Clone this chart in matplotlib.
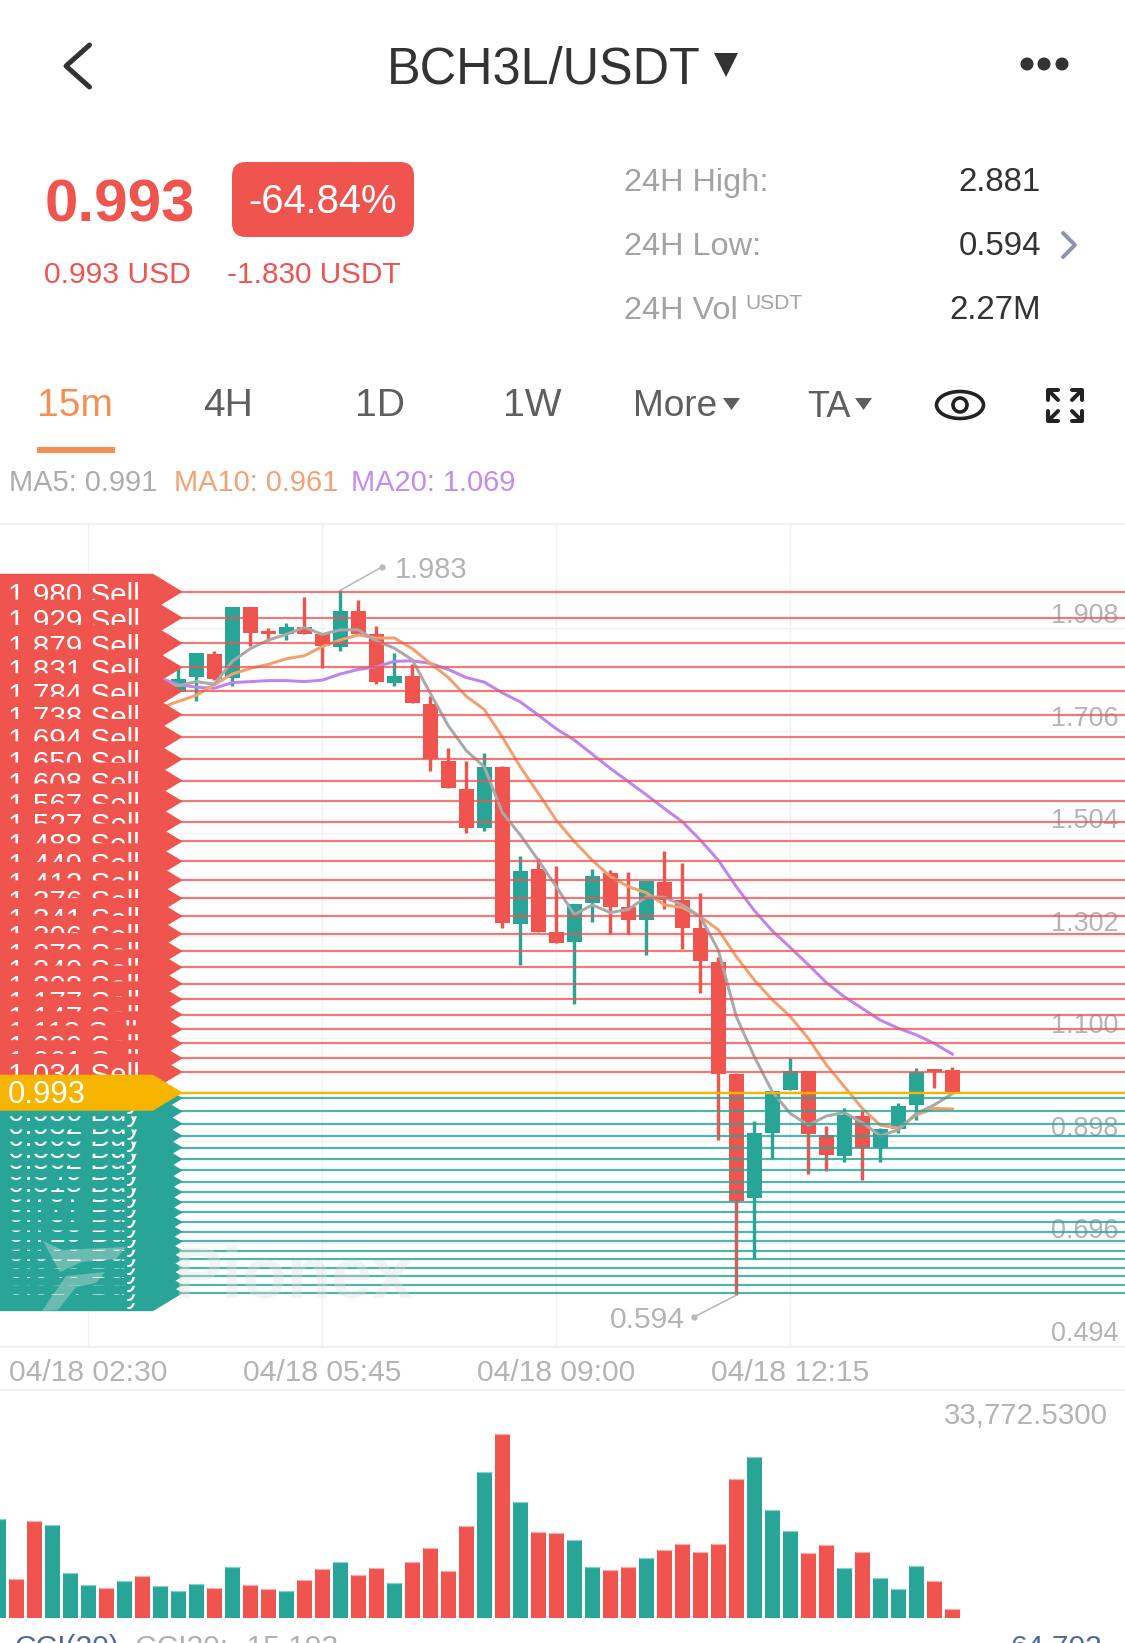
import numpy as np
import matplotlib
matplotlib.use("Agg")
import matplotlib.pyplot as plt
from matplotlib.patches import Polygon, FancyBboxPatch, Ellipse, Circle
from matplotlib.transforms import ScaledTranslation

plt.rcParams['font.family'] = ['Liberation Sans', 'DejaVu Sans']

# ---------- data ----------
opens = [1.783, 1.813, 1.857, 1.811, 1.950, 1.899, 1.896, 1.910, 1.896, 1.871, 1.943,
         1.896, 1.801, 1.814, 1.758, 1.647, 1.592, 1.514, 1.634, 1.326, 1.433, 1.310,
         1.289, 1.366, 1.425, 1.358, 1.333, 1.409, 1.372, 1.317, 1.250, 1.029, 0.786,
         0.913, 0.998, 1.035, 0.909, 0.868, 0.947, 0.885, 0.921, 0.968, 1.038, 1.037]
closes = [1.809, 1.860, 1.809, 1.950, 1.899, 1.896, 1.911, 1.896, 1.873, 1.943, 1.896,
          1.802, 1.815, 1.761, 1.650, 1.594, 1.515, 1.634, 1.328, 1.430, 1.310, 1.287,
          1.364, 1.420, 1.359, 1.333, 1.410, 1.373, 1.318, 1.252, 1.030, 0.780, 0.913,
          0.996, 1.036, 0.911, 0.870, 0.949, 0.885, 0.921, 0.967, 1.034, 1.034, 0.993]
highs = [1.829, 1.860, 1.863, 1.950, 1.950, 1.909, 1.919, 1.970, 1.896, 1.983, 1.964,
         1.912, 1.860, 1.837, 1.774, 1.673, 1.647, 1.663, 1.636, 1.459, 1.456, 1.440,
         1.364, 1.433, 1.432, 1.427, 1.410, 1.469, 1.446, 1.387, 1.261, 1.032, 0.937,
         0.997, 1.062, 1.036, 0.927, 0.962, 0.956, 0.923, 0.973, 1.042, 1.040, 1.043]
lows = [1.783, 1.765, 1.806, 1.794, 1.874, 1.883, 1.885, 1.896, 1.830, 1.863, 1.896,
        1.799, 1.794, 1.760, 1.627, 1.593, 1.504, 1.509, 1.317, 1.245, 1.310, 1.287,
        1.167, 1.330, 1.305, 1.305, 1.264, 1.354, 1.277, 1.189, 0.900, 0.594, 0.665,
        0.862, 0.998, 0.832, 0.839, 0.857, 0.821, 0.856, 0.913, 0.940, 1.003, 0.993]

ma5 = [1.802, 1.795, 1.803, 1.798, 1.843, 1.868, 1.885, 1.896, 1.910, 1.896, 1.905, 1.905,
       1.883, 1.869, 1.846, 1.780, 1.716, 1.667, 1.635, 1.545, 1.501, 1.451, 1.399, 1.344,
       1.363, 1.348, 1.354, 1.379, 1.378, 1.363, 1.340, 1.274, 1.143, 1.064, 0.995, 0.952,
       0.929, 0.947, 0.954, 0.934, 0.908, 0.920, 0.952, 0.969, 0.991]
ma10 = [1.751, 1.764, 1.776, 1.797, 1.818, 1.829, 1.837, 1.848, 1.854, 1.872, 1.885, 1.895,
        1.889, 1.889, 1.868, 1.839, 1.811, 1.774, 1.748, 1.694, 1.635, 1.583, 1.530, 1.488,
        1.451, 1.419, 1.399, 1.387, 1.363, 1.358, 1.340, 1.314, 1.261, 1.215, 1.176, 1.143,
        1.100, 1.048, 1.005, 0.962, 0.929, 0.923, 0.949, 0.962, 0.961]
ma20 = [1.810, 1.797, 1.792, 1.790, 1.801, 1.803, 1.805, 1.805, 1.803, 1.806, 1.818, 1.827,
        1.832, 1.843, 1.844, 1.839, 1.827, 1.811, 1.802, 1.781, 1.763, 1.737, 1.710, 1.688,
        1.660, 1.632, 1.606, 1.580, 1.553, 1.527, 1.491, 1.451, 1.399, 1.352, 1.312, 1.279,
        1.245, 1.210, 1.182, 1.159, 1.136, 1.120, 1.107, 1.090, 1.069]

volumes = [18083, 7111, 17716, 17041, 8276, 5946, 5394, 6682, 7724, 5885,
           4965, 6191, 5456, 9256, 5946, 5272, 4965, 6927, 8889, 10176, 7908, 9134,
           6375, 10176, 12812, 8643, 16919, 26788, 33772.53, 21271, 15815, 15509,
           14222, 9379, 8766, 9318, 10911, 12444, 13609, 12076, 13547, 25501, 29485,
           19861, 15938, 11831, 13363, 9072, 12076, 7233, 5272, 9563, 6743, 1533]
early_volume_up = [True, False, False, True, True, True, False, True, False, True]

sell_levels = [1.980, 1.929, 1.879, 1.831, 1.784, 1.738, 1.694, 1.650, 1.608, 1.567, 1.527,
               1.488, 1.449, 1.412, 1.376, 1.341, 1.306, 1.272, 1.240, 1.208, 1.177, 1.147,
               1.118, 1.090, 1.061, 1.034]
buy_levels = [0.982, 0.956, 0.932, 0.908, 0.885, 0.862, 0.840, 0.818, 0.797, 0.777, 0.757,
              0.738, 0.719, 0.700, 0.682, 0.665, 0.648, 0.631, 0.614, 0.598]
last_price = 0.993
price_ticks = [1.908, 1.706, 1.504, 1.302, 1.100, 0.898, 0.696, 0.494]
time_ticks = [-5, 8, 21, 34]
time_labels = ['04/18 02:30', '04/18 05:45', '04/18 09:00', '04/18 12:15']

RED = '#f0544f'
TEAL = '#29a598'
YELLOW = '#f7b500'
ORANGE = '#f58f54'
DARK = '#333333'
GRAY = '#b4b4b4'

W, H = 1125, 1643
PX_X0, PX_STEP = 178.3, 18.0      # pixel position of candle 0, spacing
PX_PER_UNIT = 507.5
def fs(px):
    return px * 0.72
def ix(px):
    return (px - PX_X0) / PX_STEP
def dp(px):
    return px / PX_PER_UNIT

fig = plt.figure(figsize=(W / 100, H / 100), dpi=100, facecolor='white')
def axes_px(top, bottom):
    return fig.add_axes([0, 1 - bottom / H, 1, (bottom - top) / H])

# ---------- price chart ----------
ax = axes_px(524, 1347)
ax.set_xlim(ix(0), ix(W))
ax.set_ylim(last_price - dp(1347 - 1092.7), last_price + dp(1092.7 - 524))
ax.set_facecolor('none')
for s in ['left', 'right']:
    ax.spines[s].set_visible(False)
for s in ['top', 'bottom']:
    ax.spines[s].set_color('#f0f0f0')
    ax.spines[s].set_linewidth(1.2)
ax.set_axisbelow(True)
ax.grid(True, color='#f1f1f1', lw=1.0)
ax.set_xticks(time_ticks)
ax.set_xticklabels(time_labels)
ax.tick_params(axis='x', length=0, pad=8.5, labelsize=fs(30), labelcolor=GRAY)
ax.yaxis.tick_right()
ax.set_yticks(price_ticks)
ax.set_yticklabels([f'{t:.3f}' for t in price_ticks])
ax.tick_params(axis='y', length=0, pad=-5, labelsize=fs(27), labelcolor=GRAY)
shift = ScaledTranslation(0, -0.01, fig.dpi_scale_trans)
for lab in ax.get_yticklabels():
    lab.set_ha('right')
    lab.set_va('bottom')
    lab.set_transform(lab.get_transform() + shift)

idx = np.arange(len(opens))
o, c, hi, lo = map(np.array, (opens, closes, highs, lows))
cols = [TEAL if cc >= oo else RED for oo, cc in zip(o, c)]
ax.vlines(idx, lo, hi, colors=cols, lw=fs(3.4), zorder=2)
ax.bar(idx, np.maximum(np.abs(c - o), dp(3)), bottom=np.minimum(o, c), width=15 / PX_STEP,
       color=cols, zorder=2.1, linewidth=0)

ma_x = np.arange(-1, len(opens))
ax.plot(ma_x, ma20, color='#c183ee', lw=fs(3), zorder=3, solid_joinstyle='round')
ax.plot(ma_x, ma10, color='#f4a06e', lw=fs(3), zorder=3.1, solid_joinstyle='round')
ax.plot(ma_x, ma5, color='#a9a9a9', lw=fs(3), zorder=3.2, solid_joinstyle='round')

for lv in sell_levels:
    ax.axhline(lv, color=RED, lw=fs(2.2), alpha=0.78, zorder=4)
for lv in buy_levels:
    ax.axhline(lv, color=TEAL, lw=fs(2.2), alpha=0.82, zorder=4)
ax.axhline(last_price, color=YELLOW, lw=fs(2.4), zorder=4.2)

def pennant(level, color, text, z, base_px, size_px=29.6):
    half = dp(18)
    pts = [(ix(-5), level + half), (ix(153), level + half), (ix(182.7), level),
           (ix(153), level - half), (ix(-5), level - half)]
    ax.add_patch(Polygon(pts, closed=True, facecolor=color, edgecolor='none', zorder=z))
    ax.text(ix(7.5), level - dp(base_px), text, color='white', fontsize=fs(size_px),
            ha='left', va='baseline', zorder=z + 0.5)

z = 10
for lv in sell_levels:
    pennant(lv, RED, f'{lv:.3f} Sell', z, 12.5)
    z += 1
for lv in reversed(buy_levels):
    pennant(lv, TEAL, f'{lv:.3f} Buy', z, 10)
    z += 1
pennant(last_price, YELLOW, f'{last_price:.3f}', z + 1, 10.6, 31)

# high / low callouts
hi_i = int(np.argmax(hi)); lo_i = int(np.argmin(lo))
for i, p, tx, ty, lx, ha, size in [(hi_i, hi[hi_i], 382, 567, 395, 'left', 29),
                                   (lo_i, lo[lo_i], 694.5, 1316.7, 685, 'right', 30)]:
    ty_p = last_price + dp(1092.7 - ty)
    ax.plot([i, ix(tx)], [p, ty_p], color='#b9b9b9', lw=fs(1.6), zorder=5)
    ax.plot([ix(tx)], [ty_p], 'o', ms=fs(5), color='#b9b9b9', zorder=5)
    ax.text(ix(lx), ty_p - dp(3), f'{p:.3f}', color=GRAY, fontsize=fs(size), ha=ha, va='center', zorder=5)

# ---------- volume ----------
ax2 = axes_px(1434, 1617.7)
ax2.set_xlim(ix(0), ix(W))
ax2.set_ylim(0, max(volumes))
ax2.axis('off')
vx = np.arange(-10, len(opens))
vcols = [TEAL if u else RED for u in early_volume_up] + cols
ax2.bar(vx, volumes, width=15 / PX_STEP, color=vcols, linewidth=0)
caps = ['#86d2c8' if col == TEAL else '#f8aeaa' for col in vcols]
half_w = 7.5 / PX_STEP
ax2.hlines(volumes, vx - half_w, vx + half_w, colors=caps, lw=fs(1.2), clip_on=False)

# ---------- interface layer (pixel coordinates) ----------
ui = fig.add_axes([0, 0, 1, 1], zorder=5)
ui.set_xlim(0, W); ui.set_ylim(H, 0); ui.axis('off'); ui.patch.set_alpha(0)

def t(x, y, s, px, color, ha='left', **kw):
    ui.text(x, y + 0.09 * px, s, fontsize=fs(px), color=color, ha=ha, va='center', **kw)
def tri(x0, x1, y0, y1, color):
    ui.add_patch(Polygon([(x0, y0), (x1, y0), ((x0 + x1) / 2, y1)], facecolor=color, edgecolor='none'))
def ln(xs, ys, color=DARK, px=4):
    ui.plot(xs, ys, color=color, lw=fs(px), solid_capstyle='round', solid_joinstyle='round')

ln([89.5, 66, 89.5], [45, 66, 87], DARK, 5)
t(387, 65, 'BCH3L/USDT', 50.5, DARK)
tri(714, 738, 53, 77, DARK)
for x in (1027, 1044, 1062):
    ui.add_patch(Circle((x, 64), 5.8, color=DARK))

t(45, 201, '0.993', 60, RED, fontweight='bold')
ui.add_patch(FancyBboxPatch((232, 162), 182, 75, boxstyle='round,pad=0,rounding_size=14',
                            facecolor=RED, edgecolor='none'))
t(323, 198, '-64.84%', 40, 'white', ha='center')
t(44, 272, '0.993 USD', 30, RED)
t(227, 272, '-1.830 USDT', 29.7, RED)

for y, lab, val in [(180, '24H High:', '2.881'), (244, '24H Low:', '0.594'), (308, '24H Vol', '2.27M')]:
    t(624, y, lab, 32.5, '#a3a3a3')
    t(1041, y, val, 33, DARK, ha='right')
t(745, 302, 'USDT', 21, '#a3a3a3')
ln([1063, 1075, 1063], [233, 245, 257], '#8f93b3', 4)

t(37, 402, '15m', 39, ORANGE)
t(228, 402, '4H', 39, '#5f5f5f', ha='center')
t(380, 402, '1D', 39, '#5f5f5f', ha='center')
t(532, 402, '1W', 39, '#5f5f5f', ha='center')
t(633, 403, 'More', 37, '#5f5f5f')
tri(723, 740, 398, 410, '#5f5f5f')
t(807, 404, 'TA', 36, '#5f5f5f')
tri(855, 872, 398, 410, '#5f5f5f')
ui.add_patch(Ellipse((960, 405), 47, 27, facecolor='none', edgecolor='#222222', lw=fs(3.6)))
ui.add_patch(Circle((960, 405), 7, facecolor='none', edgecolor='#222222', lw=fs(3.6)))
for cx, cy, sx, sy in [(1048, 390, 1, 1), (1082, 390, -1, 1), (1048, 421, 1, -1), (1082, 421, -1, -1)]:
    ln([cx, cx, cx + 10 * sx], [cy + 10 * sy, cy, cy], '#222222', 4)
    ln([cx + 2 * sx, cx + 10 * sx], [cy + 2 * sy, cy + 10 * sy], '#222222', 4)
ui.add_patch(plt.Rectangle((37, 447), 78, 6, color=ORANGE, lw=0))

t(9, 480, 'MA5: 0.991', 29, '#adadad')
t(174, 480, 'MA10: 0.961', 29, '#f4a273')
t(351, 480, 'MA20: 1.069', 29, '#c48bf0')

ui.plot([0, W], [1390, 1390], color='#f0f0f0', lw=1.2)
t(1108, 1413, '33,772.5300', 29.5, GRAY, ha='right')
t(14, 1645, 'CCI(20)', 30, '#4a6a9c', clip_on=True)
t(135, 1645, 'CCI20: -15.193', 30, '#b0b0b0', clip_on=True)
t(1102, 1645, '64.702', 30, '#4a6a9c', ha='right', clip_on=True)

# watermark
ui.text(173, 1279, 'Pionex', fontsize=fs(73), fontweight='bold', color='#dedede', alpha=0.36,
        ha='left', va='center')
ui.add_patch(Polygon([(43, 1241), (62, 1250), (126, 1247), (116, 1259), (82, 1262), (60, 1272)],
                     facecolor='#e4e4e4', alpha=0.36, edgecolor='none'))
ui.add_patch(Polygon([(66, 1276), (105, 1272), (96, 1283), (76, 1287), (58, 1310), (42, 1311)],
                     facecolor='#e4e4e4', alpha=0.36, edgecolor='none'))

fig.savefig('out.png', dpi=100, facecolor='white')
